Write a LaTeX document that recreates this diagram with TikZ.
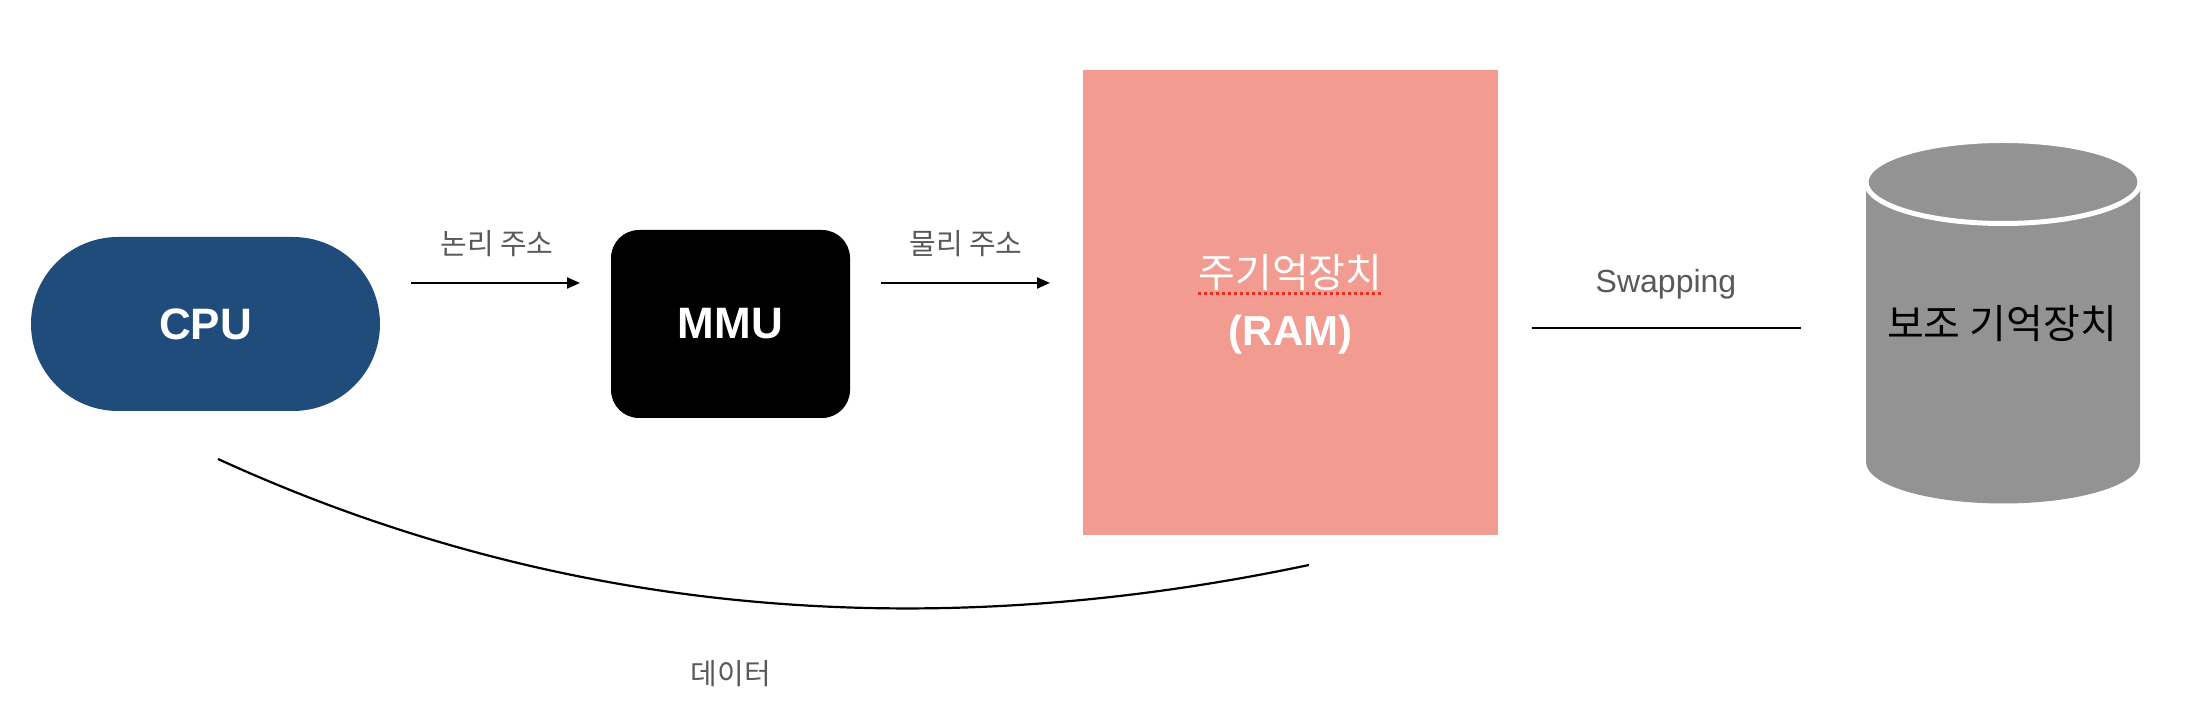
\documentclass[tikz,border=0pt]{standalone}
\usepackage{fontspec}
\setmainfont{Liberation Sans}
\newfontfamily\kr{Noto Sans CJK KR}
\usetikzlibrary{arrows.meta}
\definecolor{cpublue}{RGB}{31,76,123}
\definecolor{ramred}{RGB}{241,155,145}
\definecolor{diskgray}{RGB}{147,147,147}
\definecolor{labelgray}{RGB}{89,89,89}
\definecolor{spellred}{RGB}{235,45,35}
\tikzset{
  boxtext/.style={text=white, font=\bfseries\fontsize{44}{50}\selectfont},
  lbl/.style={text=labelgray, font=\kr\fontsize{29}{34}\selectfont, inner sep=0pt},
  conn/.style={line width=2.2pt, black},
  arr/.style={conn, -{Triangle[length=13pt,width=11pt]}},
}
\begin{document}
\begin{tikzpicture}[x=1pt,y=1pt]
\useasboundingbox (0,0) rectangle (2208,714);
% CPU
\node[boxtext, fill=cpublue, minimum width=349pt, minimum height=174pt, rounded corners=87pt, inner sep=0pt] (cpu) at (205.5,390) {CPU};
% MMU
\node[boxtext, fill=black, minimum width=239pt, minimum height=188pt, rounded corners=28pt, inner sep=0pt] (mmu) at (730.5,390) {MMU};
% RAM
\node[fill=ramred, minimum width=415pt, minimum height=465pt, inner sep=0pt] (ram) at (1290.5,411.5) {};
\node[text=white, font=\kr\fontsize{40}{46}\selectfont, inner sep=0pt] (ramk) at (1290.5,441) {주기억장치};
\node[boxtext, font=\bfseries\fontsize{42}{48}\selectfont, inner sep=0pt] (ramt) at (1290.5,379) {(RAM)};
\draw[spellred, line width=2.4pt, dash pattern=on 3pt off 3pt] ([yshift=-2pt]ramk.south west) -- ([yshift=-2pt]ramk.south east);
% arrows
\coordinate (a1s) at (411,431);
\coordinate (a1e) at (580,431);
\coordinate (a2s) at (881,431);
\coordinate (a2e) at (1050,431);
\draw[arr] (a1s) -- (a1e);
\draw[arr] (a2s) -- (a2e);
\node[lbl] (l1) at (497,470) {논리 주소};
\node[lbl] (l2) at (966,470) {물리 주소};
% swapping
\coordinate (sws) at (1532,386);
\coordinate (swe) at (1801,386);
\draw[conn] (sws) -- (swe);
\node[text=labelgray, font=\fontsize{32}{38}\selectfont, inner sep=0pt] (swl) at (1666,430) {Swapping};
% disk cylinder
\fill[diskgray] (1866,532) -- (1866,252) arc[start angle=180, end angle=360, x radius=137pt, y radius=41.5pt] -- (2140,532) -- cycle;
\filldraw[fill=diskgray, draw=white, line width=5pt] (2003,532) ellipse[x radius=137pt, y radius=41.5pt];
\node[text=black, font=\kr\fontsize{40}{46}\selectfont, inner sep=0pt] (disk) at (2002,390) {보조 기억장치};
% data curve
\coordinate (ds) at (218,255);
\coordinate (de) at (1309,149);
\draw[conn] (ds) .. controls (552.7,101.7) and (916.3,66.3) .. (de);
\node[lbl] (dl) at (731,40) {데이터};
\end{tikzpicture}
\end{document}
